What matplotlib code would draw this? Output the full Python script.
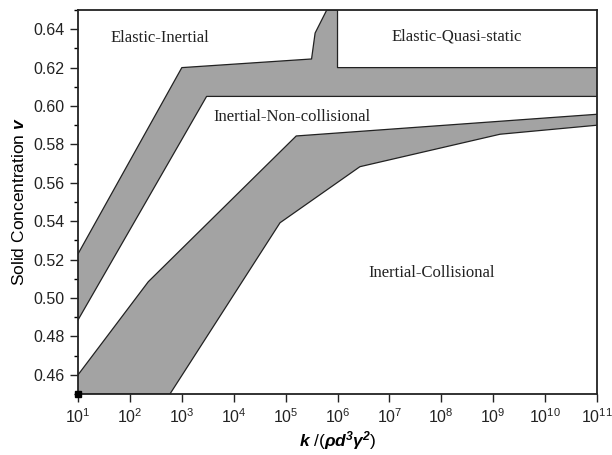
import numpy as np
import matplotlib
matplotlib.use("Agg")
import matplotlib.pyplot as plt

plt.rcParams['font.family'] = ['Liberation Sans', 'DejaVu Sans']
plt.rcParams['mathtext.fontset'] = 'custom'
plt.rcParams['mathtext.rm'] = 'Liberation Sans'
plt.rcParams['mathtext.it'] = 'Liberation Sans:italic'
plt.rcParams['mathtext.bf'] = 'Liberation Sans:bold:italic'

# upper band (Elastic-Inertial / Inertial-Non-collisional / Elastic-Quasi-static)
band1_upper_k = [1e1, 1e3, 3.16e5, 3.7e5, 6.2e5, 1e6, 1e6, 1e11]
band1_upper_v = [0.523, 0.620, 0.6245, 0.638, 0.650, 0.650, 0.620, 0.620]
band1_lower_k = [1e1, 3.0e3, 1e11]
band1_lower_v = [0.4886, 0.605, 0.605]

# lower band (Inertial-Non-collisional / Inertial-Collisional)
band2_upper_k = [1e1, 2.26e2, 1.6e5, 1e11]
band2_upper_v = [0.460, 0.5085, 0.5844, 0.5957]
band2_lower_k = [1e1, 5.9e2, 7.8e4, 2.7e6, 1.35e9, 1e11]
band2_lower_v = [0.450, 0.450, 0.5392, 0.5684, 0.5853, 0.590]

regions = ["Elastic-Inertial", "Elastic-Quasi-static",
           "Inertial-Non-collisional", "Inertial-Collisional"]
region_k = [10**2.58, 10**8.29, 10**5.12, 10**7.81]
region_v = [0.6355, 0.6362, 0.5945, 0.5129]

fig = plt.figure(figsize=(6.12, 4.55), dpi=100)
ax = fig.add_axes([0.1275, 0.134, 0.848, 0.844])

gray = '#a3a3a3'
for uk, uv, lk, lv in [(band1_upper_k, band1_upper_v, band1_lower_k, band1_lower_v),
                       (band2_upper_k, band2_upper_v, band2_lower_k, band2_lower_v)]:
    xs = list(uk) + list(lk[::-1])
    ys = list(uv) + list(lv[::-1])
    ax.fill(xs, ys, facecolor=gray, edgecolor='none', zorder=1)
    ax.plot(uk, uv, color='#222222', lw=0.9, zorder=2)
    ax.plot(lk, lv, color='#222222', lw=0.9, zorder=2)

# small marker sitting in the lower-left corner
ax.plot([10], [0.45], 's', color='black', ms=4, clip_on=False, zorder=5)

for name, k, v in zip(regions, region_k, region_v):
    ax.text(k, v, name, family='Liberation Serif', fontsize=12, color='#222222',
            ha='center', va='center')

ax.set_xscale('log')
ax.set_xlim(1e1, 1e11)
ax.set_ylim(0.45, 0.65)
ax.set_xticks([10.0**i for i in range(1, 12)])
ax.xaxis.set_minor_locator(matplotlib.ticker.NullLocator())
ax.set_yticks(np.arange(0.46, 0.641, 0.02))
ax.set_yticks(np.arange(0.45, 0.651, 0.01), minor=True)
ax.yaxis.set_major_formatter(matplotlib.ticker.FormatStrFormatter('%.2f'))

ax.tick_params(axis='both', which='major', direction='out', length=6, width=1.0,
               labelsize=11.5, colors='#222222')
ax.tick_params(axis='y', which='minor', direction='out', length=3, width=1.0)
for s in ax.spines.values():
    s.set_linewidth(1.3)
    s.set_color('#222222')

ax.set_ylabel(r'Solid Concentration $\mathbf{v}$', fontsize=12.5, labelpad=5)
ax.set_xlabel(r'$\mathbf{k}$ /($\mathbf{\rho d^3 \gamma^2}$)', fontsize=12.5, labelpad=2)

fig.savefig('out.png', dpi=100)
